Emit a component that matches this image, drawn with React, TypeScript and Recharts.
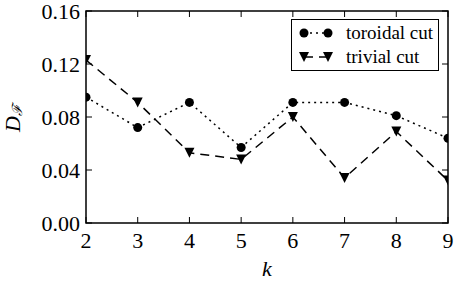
import React from 'react'
import { LineChart, Line, XAxis, YAxis, Legend, ReferenceArea } from 'recharts'

// valeurs
const ks = [2, 3, 4, 5, 6, 7, 8, 9]
const toroidal = [0.095, 0.072, 0.091, 0.057, 0.091, 0.091, 0.081, 0.064]
const trivial = [0.123, 0.091, 0.053, 0.048, 0.08, 0.034, 0.069, 0.032]
const xTicks = [2, 3, 4, 5, 6, 7, 8, 9]
const yTicks = [0, 0.04, 0.08, 0.12, 0.16]

const data = ks.map((k, i) => ({ k, toroidal: toroidal[i], trivial: trivial[i] }))

const FONT = "'Liberation Serif', 'DejaVu Serif', serif"
const PLOT_W = 362
const PLOT_H = 212

function XTick(props: any) {
  const { x, y, payload } = props
  return (
    <g>
      <line x1={x} y1={y} x2={x} y2={y - 6} stroke="#000" strokeWidth={1} />
      <line x1={x} y1={y - PLOT_H} x2={x} y2={y - PLOT_H + 6} stroke="#000" strokeWidth={1} />
      <text x={x} y={y + 25} textAnchor="middle" fontFamily={FONT} fontSize={22} fill="#000">
        {payload.value}
      </text>
    </g>
  )
}

function YTick(props: any) {
  const { x, y, payload } = props
  return (
    <g>
      <line x1={x} y1={y} x2={x + 6} y2={y} stroke="#000" strokeWidth={1} />
      <line x1={x + PLOT_W} y1={y} x2={x + PLOT_W - 6} y2={y} stroke="#000" strokeWidth={1} />
      <text x={x - 6} y={y + 7.5} textAnchor="end" fontFamily={FONT} fontSize={22} fill="#000">
        {payload.value.toFixed(2)}
      </text>
    </g>
  )
}

function Circle(props: any) {
  const { cx, cy, index } = props
  if (cx == null || cy == null) return <g key={index} />
  return <circle key={index} cx={cx} cy={cy} r={4.5} fill="#000" />
}

function TriDown(props: any) {
  const { cx, cy, index } = props
  if (cx == null || cy == null) return <g key={index} />
  const s = 5
  return <path key={index} d={`M${cx - s},${cy - s} L${cx + s},${cy - s} L${cx},${cy + s} Z`} fill="#000" />
}

function LegendBox() {
  const row = (label: string, kind: 'c' | 't', dash: string) => (
    <div style={{ display: 'flex', alignItems: 'center', height: 24 }}>
      <svg width={50} height={24} style={{ display: 'block' }}>
        <line x1={12} y1={12} x2={36} y2={12} stroke="#000" strokeWidth={1.5} strokeDasharray={dash} />
        {kind === 'c' ? (
          <>
            <circle cx={12} cy={12} r={4.5} fill="#000" />
            <circle cx={36} cy={12} r={4.5} fill="#000" />
          </>
        ) : (
          <>
            <path d="M7,7 L17,7 L12,17 Z" fill="#000" />
            <path d="M31,7 L41,7 L36,17 Z" fill="#000" />
          </>
        )}
      </svg>
      <span style={{ marginLeft: 4, fontFamily: FONT, fontSize: 19, color: '#000', lineHeight: '24px' }}>{label}</span>
    </div>
  )
  return (
    <div
      style={{
        width: 148,
        height: 52,
        boxSizing: 'border-box',
        border: '1.5px solid #000',
        background: '#fff',
        paddingTop: 1,
      }}
    >
      {row('toroidal cut', 'c', '2 4')}
      {row('trivial cut', 't', '9 6')}
    </div>
  )
}

export default function App() {
  return (
    <div style={{ position: 'absolute', left: 0, top: 0, width: 457, height: 283, background: '#fff' }}>
      <LineChart width={457} height={283} data={data} margin={{ top: 11, right: 9, left: 0, bottom: 0 }}>
        <XAxis
          dataKey="k"
          type="number"
          domain={[2, 9]}
          ticks={xTicks}
          allowDataOverflow
          height={60}
          tickSize={0}
          tickMargin={0}
          tickLine={false}
          axisLine={false}
          tick={<XTick />}
          interval={0}
        />
        <YAxis
          type="number"
          domain={[0, 0.16]}
          ticks={yTicks}
          allowDataOverflow
          width={86}
          tickSize={0}
          tickMargin={0}
          tickLine={false}
          axisLine={false}
          tick={<YTick />}
          interval={0}
        />
        <ReferenceArea x1={2} x2={9} y1={0} y2={0.16} fill="none" stroke="#000" strokeWidth={1.5} fillOpacity={0} strokeOpacity={1} />
        <Line
          dataKey="toroidal"
          stroke="#000"
          strokeWidth={1.5}
          strokeDasharray="2 4"
          dot={<Circle />}
          isAnimationActive={false}
        />
        <Line
          dataKey="trivial"
          stroke="#000"
          strokeWidth={1.5}
          strokeDasharray="9 6"
          dot={<TriDown />}
          isAnimationActive={false}
        />
        <Legend
          layout="vertical"
          align="center"
          verticalAlign="middle"
          content={() => <LegendBox />}
          wrapperStyle={{ position: 'absolute', left: 291, top: 19, width: 148 }}
        />
        <text
          x={12}
          y={118}
          transform="rotate(-90 12 118)"
          textAnchor="middle"
          dominantBaseline="central"
          fontFamily={FONT}
          fontSize={22}
          fontStyle="italic"
          fill="#000"
        >
          D
          <tspan fontSize={14} dy={5} fontStyle="italic" fontFamily="'DejaVu Serif', serif">ℱ</tspan>
        </text>
        <text x={267} y={276} textAnchor="middle" fontFamily={FONT} fontSize={22} fontStyle="italic" fill="#000">
          k
        </text>
      </LineChart>
    </div>
  )
}
